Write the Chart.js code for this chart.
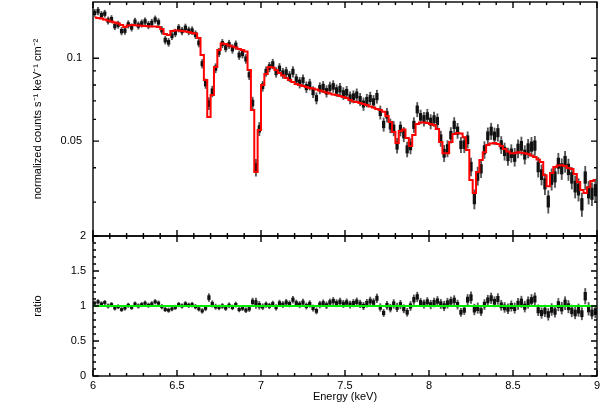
<!DOCTYPE html>
<html>
<head>
<meta charset="utf-8">
<script src="https://cdn.jsdelivr.net/npm/chart.js@4.4.1/dist/chart.umd.min.js"></script>
<style>
  body { margin: 0; background: #fff; }
  #wrap { position: relative; width: 611px; height: 404px; }
  #wrap canvas { position: absolute; left: 0; top: 0; }
</style>
</head>
<body>
<div id="wrap">
  <canvas id="spec" width="611" height="404"></canvas>
  <canvas id="ratio" width="611" height="404"></canvas>
</div>
<script>
// bin centres (keV)
const energy = [
  6.01,6.03,6.05,6.07,6.09,6.11,6.13,6.15,6.17,6.19,
  6.21,6.23,6.25,6.27,6.29,6.31,6.33,6.35,6.37,6.39,
  6.41,6.43,6.45,6.47,6.49,6.51,6.53,6.55,6.57,6.59,
  6.61,6.63,6.65,6.67,6.69,6.71,6.73,6.75,6.77,6.79,
  6.81,6.83,6.85,6.87,6.89,6.91,6.93,6.95,6.97,6.99,
  7.01,7.03,7.05,7.07,7.09,7.11,7.13,7.15,7.17,7.19,
  7.21,7.23,7.25,7.27,7.29,7.31,7.33,7.35,7.37,7.39,
  7.41,7.43,7.45,7.47,7.49,7.51,7.53,7.55,7.57,7.59,
  7.61,7.63,7.65,7.67,7.69,7.71,7.73,7.75,7.77,7.79,
  7.81,7.83,7.85,7.87,7.89,7.91,7.93,7.95,7.97,7.99,
  8.01,8.03,8.05,8.07,8.09,8.11,8.13,8.15,8.17,8.19,
  8.21,8.23,8.25,8.27,8.29,8.31,8.33,8.35,8.37,8.39,
  8.41,8.43,8.45,8.47,8.49,8.51,8.53,8.55,8.57,8.59,
  8.61,8.63,8.65,8.67,8.69,8.71,8.73,8.75,8.77,8.79,
  8.81,8.83,8.85,8.87,8.89,8.91,8.93,8.95,8.97,8.99
]
const dataFlux = [
  0.1463,0.1485,0.1437,0.1453,0.1372,0.1388,0.1309,0.1325,0.1255,0.1260,
  0.1329,0.1295,0.1359,0.1316,0.1339,0.1362,0.1321,0.1344,0.1383,0.1351,
  0.1265,0.1165,0.1143,0.1207,0.1237,0.1287,0.1257,0.1290,0.1258,0.1261,
  0.1219,0.1138,0.0956,0.0809,0.0685,0.0758,0.0921,0.1051,0.1132,0.1093,
  0.1124,0.1082,0.1117,0.1027,0.1040,0.0995,0.0871,0.0688,0.0401,0.0554,
  0.0792,0.0895,0.0930,0.0954,0.0889,0.0919,0.0883,0.0890,0.0859,0.0894,
  0.0838,0.0816,0.0833,0.0786,0.0803,0.0754,0.0716,0.0779,0.0787,0.0759,
  0.0782,0.0791,0.0764,0.0773,0.0745,0.0753,0.0719,0.0725,0.0736,0.0709,
  0.0682,0.0703,0.0715,0.0695,0.0726,0.0636,0.0575,0.0623,0.0569,0.0556,
  0.0482,0.0555,0.0529,0.0467,0.0480,0.0573,0.0652,0.0613,0.0602,0.0617,
  0.0589,0.0601,0.0592,0.0511,0.0452,0.0470,0.0526,0.0573,0.0546,0.0485,
  0.0486,0.0506,0.0404,0.0308,0.0374,0.0397,0.0465,0.0523,0.0544,0.0522,
  0.0537,0.0485,0.0459,0.0440,0.0452,0.0438,0.0470,0.0481,0.0447,0.0471,
  0.0478,0.0482,0.0403,0.0378,0.0350,0.0302,0.0364,0.0371,0.0416,0.0397,
  0.0422,0.0395,0.0368,0.0342,0.0334,0.0295,0.0369,0.0326,0.0322,0.0332
]
const modelFlux = [
  0.1407,0.1401,0.1395,0.1384,0.1372,0.1361,0.1349,0.1338,0.1321,0.1299,
  0.1316,0.1321,0.1319,0.1316,0.1313,0.1310,0.1308,0.1305,0.1305,0.1299,
  0.1278,0.1226,0.1216,0.1257,0.1262,0.1262,0.1257,0.1252,0.1246,0.1236,
  0.1231,0.1185,0.1028,0.0834,0.0612,0.0736,0.0930,0.1072,0.1132,0.1127,
  0.1113,0.1104,0.1095,0.1081,0.1072,0.1059,0.0907,0.0649,0.0386,0.0549,
  0.0800,0.0877,0.0930,0.0926,0.0907,0.0884,0.0866,0.0848,0.0834,0.0820,
  0.0806,0.0800,0.0793,0.0786,0.0780,0.0777,0.0770,0.0764,0.0757,0.0751,
  0.0745,0.0739,0.0735,0.0729,0.0723,0.0717,0.0705,0.0697,0.0694,0.0688,
  0.0682,0.0676,0.0668,0.0662,0.0654,0.0649,0.0639,0.0617,0.0587,0.0540,
  0.0492,0.0544,0.0551,0.0513,0.0480,0.0526,0.0577,0.0584,0.0584,0.0582,
  0.0577,0.0572,0.0553,0.0496,0.0452,0.0452,0.0496,0.0531,0.0535,0.0533,
  0.0517,0.0464,0.0361,0.0324,0.0386,0.0427,0.0456,0.0484,0.0490,0.0492,
  0.0488,0.0480,0.0468,0.0458,0.0452,0.0452,0.0456,0.0454,0.0452,0.0449,
  0.0443,0.0438,0.0429,0.0420,0.0376,0.0343,0.0383,0.0403,0.0408,0.0409,
  0.0406,0.0399,0.0396,0.0380,0.0355,0.0332,0.0324,0.0340,0.0358,0.0361
]
const ratio = [
  1.04,1.06,1.03,1.05,1.00,1.02,0.97,0.99,0.95,0.97,
  1.01,0.98,1.03,1.00,1.02,1.04,1.01,1.03,1.06,1.04,
  0.99,0.95,0.94,0.96,0.98,1.02,1.00,1.03,1.01,1.02,
  0.99,0.96,0.93,0.97,1.12,1.03,0.99,0.98,1.00,0.97,
  1.01,0.98,1.02,0.95,0.97,0.94,0.96,1.06,1.04,1.01,
  0.99,1.02,1.00,1.03,0.98,1.04,1.02,1.05,1.03,1.09,
  1.04,1.02,1.05,1.00,1.03,0.97,0.93,1.02,1.04,1.01,
  1.05,1.07,1.04,1.06,1.03,1.05,1.02,1.04,1.06,1.03,
  1.00,1.04,1.07,1.05,1.11,0.98,0.90,1.01,0.97,1.03,
  0.98,1.02,0.96,0.91,1.00,1.09,1.13,1.05,1.03,1.06,
  1.02,1.05,1.07,1.03,1.00,1.04,1.06,1.08,1.02,0.91,
  0.94,1.09,1.12,0.95,0.97,0.93,1.02,1.08,1.11,1.06,
  1.10,1.01,0.98,0.96,1.00,0.97,1.03,1.06,0.99,1.05,
  1.08,1.10,0.94,0.90,0.93,0.88,0.95,0.92,1.02,0.97,
  1.04,0.99,0.93,0.90,0.94,0.89,1.14,0.96,0.90,0.92
]
// relative 1-sigma errors
const relErr = [
  0.030,0.031,0.030,0.029,0.030,0.031,0.030,0.030,0.031,0.031,
  0.031,0.031,0.030,0.031,0.031,0.031,0.031,0.032,0.031,0.032,
  0.032,0.033,0.033,0.032,0.032,0.032,0.032,0.033,0.033,0.033,
  0.033,0.034,0.036,0.040,0.050,0.045,0.038,0.035,0.035,0.035,
  0.035,0.036,0.036,0.036,0.037,0.037,0.040,0.050,0.070,0.055,
  0.042,0.040,0.040,0.040,0.041,0.042,0.042,0.043,0.043,0.044,
  0.044,0.045,0.045,0.045,0.046,0.046,0.047,0.047,0.047,0.048,
  0.048,0.049,0.049,0.050,0.050,0.050,0.051,0.051,0.052,0.052,
  0.053,0.053,0.054,0.054,0.055,0.055,0.056,0.057,0.058,0.060,
  0.062,0.060,0.060,0.062,0.064,0.062,0.060,0.058,0.058,0.058,
  0.060,0.060,0.061,0.064,0.068,0.068,0.065,0.063,0.063,0.064,
  0.066,0.068,0.075,0.080,0.076,0.072,0.070,0.068,0.068,0.069,
  0.070,0.071,0.072,0.073,0.074,0.075,0.076,0.076,0.077,0.078,
  0.079,0.080,0.082,0.084,0.088,0.094,0.089,0.086,0.086,0.087,
  0.088,0.089,0.090,0.092,0.094,0.098,0.097,0.095,0.095,0.096
]

const xMajorTicks = [6, 6.5, 7, 7.5, 8, 8.5, 9]
const xMinorTicks = [6.1,6.2,6.3,6.4,6.6,6.7,6.8,6.9,7.1,7.2,7.3,7.4,7.6,7.7,7.8,7.9,8.1,8.2,8.3,8.4,8.6,8.7,8.8,8.9]
const fluxLabelTicks = [0.05, 0.1]
const fluxMinorTicks = [0.03, 0.04, 0.06, 0.07, 0.08, 0.09]
const ratioTicks = [0, 0.5, 1, 1.5, 2]
const ratioMinorTicks = [0.1,0.2,0.3,0.4,0.6,0.7,0.8,0.9,1.1,1.2,1.3,1.4,1.6,1.7,1.8,1.9]

Chart.defaults.font.family = "'Liberation Sans', Arial, sans-serif"
Chart.defaults.font.size = 11
Chart.defaults.color = '#000'

// box round the plot with inward ticks on all four sides
const framePlugin = {
  id: 'frame',
  afterDraw(chart, args, opts) {
    const ctx = chart.ctx, a = chart.chartArea
    const xs = chart.scales.x, ys = chart.scales.y
    ctx.save()
    ctx.strokeStyle = '#000'
    ctx.lineWidth = 1.4
    ctx.beginPath()
    const xt = (vals, len) => vals.forEach(v => {
      const p = xs.getPixelForValue(v)
      ctx.moveTo(p, a.bottom); ctx.lineTo(p, a.bottom - len)
      ctx.moveTo(p, a.top); ctx.lineTo(p, a.top + len)
    })
    const yt = (vals, len) => vals.forEach(v => {
      const p = ys.getPixelForValue(v)
      ctx.moveTo(a.left, p); ctx.lineTo(a.left + len, p)
      ctx.moveTo(a.right, p); ctx.lineTo(a.right - len, p)
    })
    xt(xMajorTicks, 6)
    xt(xMinorTicks, 3)
    yt(opts.major, 6)
    yt(opts.minor, 3)
    ctx.stroke()
    ctx.strokeRect(a.left, a.top, a.right - a.left, a.bottom - a.top)
    ctx.restore()
  }
}

// floating bar from value*(1-k*err) to value*(1+k*err)
function errBars(vals, k) {
  return energy.map((e, i) => ({x: e, y: [vals[i] * (1 - k * relErr[i]), vals[i] * (1 + k * relErr[i])]}))
}
function points(vals) {
  return energy.map((e, i) => ({x: e, y: vals[i]}))
}
function noPad(s) {
  s.paddingTop = 0; s.paddingBottom = 0; s.paddingLeft = 0; s.paddingRight = 0
}

new Chart(document.getElementById('spec').getContext('2d'), {
  type: 'scatter',
  data: {
    datasets: [
      {type: 'line', data: points(modelFlux), borderColor: '#ff0000', borderWidth: 2, pointRadius: 0, stepped: 'middle', order: 0},
      {type: 'bar', data: errBars(dataFlux, 0.5), backgroundColor: '#111', barThickness: 2.6, grouped: false, order: 1},
      {type: 'bar', data: errBars(dataFlux, 1), backgroundColor: '#555', barThickness: 1.2, grouped: false, order: 2}
    ]
  },
  options: {
    responsive: false,
    animation: false,
    events: [],
    layout: {autoPadding: false, padding: {left: 0, right: 14, top: 2, bottom: 168}},
    plugins: {legend: {display: false}, tooltip: {enabled: false}, frame: {major: fluxLabelTicks, minor: fluxMinorTicks}},
    scales: {
      x: {type: 'linear', min: 6, max: 9, offset: false, display: false},
      y: {
        type: 'logarithmic', min: 0.0226, max: 0.1602,
        grid: {display: false, drawTicks: false}, border: {display: false},
        afterBuildTicks: s => { s.ticks = fluxLabelTicks.map(v => ({value: v})) },
        afterFit: s => { s.width = 93; noPad(s) },
        ticks: {padding: 11, callback: v => String(v)},
        title: {display: true, text: 'normalized counts s\u207B\u00B9 keV\u207B\u00B9 cm\u207B\u00B2', padding: {top: 31, bottom: 0}}
      }
    }
  },
  plugins: [framePlugin]
})

new Chart(document.getElementById('ratio').getContext('2d'), {
  type: 'scatter',
  data: {
    datasets: [
      {type: 'line', data: [{x: 6, y: 1}, {x: 9, y: 1}], borderColor: '#00ee00', borderWidth: 2, pointRadius: 0, order: 0},
      {type: 'bar', data: errBars(ratio, 0.5), backgroundColor: '#111', barThickness: 2.6, grouped: false, order: 1},
      {type: 'bar', data: errBars(ratio, 1), backgroundColor: '#555', barThickness: 1.2, grouped: false, order: 2}
    ]
  },
  options: {
    responsive: false,
    animation: false,
    events: [],
    layout: {autoPadding: false, padding: {left: 0, right: 14, top: 236, bottom: 0}},
    plugins: {legend: {display: false}, tooltip: {enabled: false}, frame: {major: ratioTicks, minor: ratioMinorTicks}},
    scales: {
      x: {
        type: 'linear', min: 6, max: 9, offset: false,
        grid: {display: false, drawTicks: false, offset: false}, border: {display: false},
        afterBuildTicks: s => { s.ticks = xMajorTicks.map(v => ({value: v})) },
        afterFit: s => { s.height = 28; noPad(s) },
        ticks: {padding: 3, maxRotation: 0, callback: v => String(v)},
        title: {display: true, text: 'Energy (keV)', padding: {top: 0, bottom: 0}}
      },
      y: {
        type: 'linear', min: 0, max: 2,
        grid: {display: false, drawTicks: false}, border: {display: false},
        afterBuildTicks: s => { s.ticks = ratioTicks.map(v => ({value: v})) },
        afterFit: s => { s.width = 93; noPad(s) },
        ticks: {padding: 7, callback: v => String(v)},
        title: {display: true, text: 'ratio', padding: {top: 31, bottom: 0}}
      }
    }
  },
  plugins: [framePlugin]
})
</script>
</body>
</html>
